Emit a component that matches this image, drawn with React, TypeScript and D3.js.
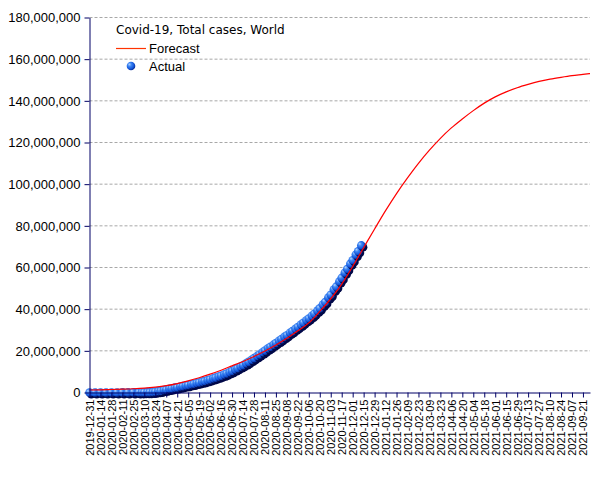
import { useRef, useEffect } from "react";
import * as d3 from "d3";

const WIDTH = 605;
const HEIGHT = 480;

const chartTitle = "Covid-19, Total cases, World";
const legendLabels = ["Forecast", "Actual"];

// forecast, every 14 days from 2019-12-31 (plus the last day of the axis)
const forecastDates = [
  "2019-12-31", "2020-01-14", "2020-01-28", "2020-02-11", "2020-02-25", "2020-03-10",
  "2020-03-24", "2020-04-07", "2020-04-21", "2020-05-05", "2020-05-19", "2020-06-02",
  "2020-06-16", "2020-06-30", "2020-07-14", "2020-07-28", "2020-08-11", "2020-08-25",
  "2020-09-08", "2020-09-22", "2020-10-06", "2020-10-20", "2020-11-03", "2020-11-17",
  "2020-12-01", "2020-12-15", "2020-12-29", "2021-01-12", "2021-01-26", "2021-02-09",
  "2021-02-23", "2021-03-09", "2021-03-23", "2021-04-06", "2021-04-20", "2021-05-04",
  "2021-05-18", "2021-06-01", "2021-06-15", "2021-06-29", "2021-07-13", "2021-07-27",
  "2021-08-10", "2021-08-24", "2021-09-07", "2021-09-21", "2021-09-30",
];
// millions
const forecastValues = [
  1.2, 1.3, 1.45, 1.6, 1.8, 2.1,
  2.6, 3.3, 4.3, 5.6, 7.1, 8.8,
  10.7, 12.8, 14.9, 17.3, 19.9, 22.8,
  26.0, 29.6, 33.4, 38.9, 45.0, 52.0,
  60.5, 69.5, 78.5, 87.3, 95.5, 103.0,
  110.0, 116.3, 122.0, 127.0, 131.3, 135.3,
  138.9, 141.9, 144.3, 146.3, 147.9, 149.3,
  150.4, 151.3, 152.1, 152.7, 153.1,
];

const actualDates = [
  "2019-12-31", "2020-01-07", "2020-01-14", "2020-01-21", "2020-01-28", "2020-02-04",
  "2020-02-11", "2020-02-18", "2020-02-25", "2020-03-03", "2020-03-07", "2020-03-10",
  "2020-03-14", "2020-03-17", "2020-03-21", "2020-03-24", "2020-03-28", "2020-03-31",
  "2020-04-04", "2020-04-07", "2020-04-11", "2020-04-14", "2020-04-18", "2020-04-21",
  "2020-04-25", "2020-04-28", "2020-05-02", "2020-05-05", "2020-05-09", "2020-05-12",
  "2020-05-16", "2020-05-19", "2020-05-23", "2020-05-26", "2020-05-30", "2020-06-02",
  "2020-06-06", "2020-06-09", "2020-06-13", "2020-06-16", "2020-06-20", "2020-06-23",
  "2020-06-27", "2020-06-30", "2020-07-04", "2020-07-07", "2020-07-11", "2020-07-14",
  "2020-07-18", "2020-07-21", "2020-07-25", "2020-07-28", "2020-08-01", "2020-08-04",
  "2020-08-08", "2020-08-11", "2020-08-15", "2020-08-18", "2020-08-22", "2020-08-25",
  "2020-08-29", "2020-09-01", "2020-09-05", "2020-09-08", "2020-09-12", "2020-09-15",
  "2020-09-19", "2020-09-22", "2020-09-26", "2020-09-29", "2020-10-03", "2020-10-06",
  "2020-10-10", "2020-10-13", "2020-10-17", "2020-10-20", "2020-10-24", "2020-10-27",
  "2020-10-31", "2020-11-03", "2020-11-07", "2020-11-10", "2020-11-14", "2020-11-17",
  "2020-11-21", "2020-11-24", "2020-11-28", "2020-12-01", "2020-12-05", "2020-12-08",
  "2020-12-12",
];
// millions
const actualValues = [
  0.00003, 0.00006, 0.00006, 0.00044, 0.0056, 0.0245,
  0.0452, 0.0733, 0.0804, 0.0928, 0.106, 0.118,
  0.157, 0.197, 0.305, 0.418, 0.66, 0.8,
  1.2, 1.36, 1.78, 1.92, 2.32, 2.47,
  2.86, 3.04, 3.4, 3.58, 3.96, 4.17,
  4.55, 4.8, 5.2, 5.49, 5.93, 6.26,
  6.76, 7.12, 7.64, 8.04, 8.62, 9.1,
  9.76, 10.3, 11.1, 11.64, 12.48, 13.08,
  14.0, 14.71, 15.7, 16.48, 17.5, 18.27,
  19.3, 20.11, 21.2, 21.93, 22.96, 23.75,
  24.8, 25.6, 26.7, 27.5, 28.7, 29.44,
  30.6, 31.45, 32.6, 33.5, 34.7, 35.55,
  36.8, 37.8, 39.3, 40.4, 42.2, 43.4,
  45.6, 46.9, 49.4, 50.8, 53.3, 55.0,
  57.5, 59.3, 61.8, 63.5, 66.1, 67.8,
  70.6,
];

const yTicks = [0, 20, 40, 60, 80, 100, 120, 140, 160, 180];
const axisStart = "2019-12-31";
const axisEnd = "2021-09-30";
const tickStepDays = 14;

const FONT = "'Liberation Sans', Arial, sans-serif";

const App = () => {
  const svgRef = useRef(null);

  useEffect(() => {
    document.body.style.margin = "0";
    const parse = d3.utcParse("%Y-%m-%d");
    const start = parse(axisStart);
    const end = parse(axisEnd);

    const x = d3.scaleUtc().domain([start, end]).range([89.5, 590]);
    const y = d3.scaleLinear().domain([0, 180]).range([392.5, 17.5]);

    const svgEl = d3.select(svgRef.current);
    svgEl.selectAll("*").remove();

    // gradient for the ball markers
    const defs = svgEl.append("defs");
    const grad = defs
      .append("radialGradient")
      .attr("id", "ball")
      .attr("cx", "0.4")
      .attr("cy", "0.4")
      .attr("r", "0.6")
      .attr("fx", "0.3")
      .attr("fy", "0.3");
    grad.append("stop").attr("offset", "0%").attr("stop-color", "#b5d4ff");
    grad.append("stop").attr("offset", "35%").attr("stop-color", "#3f88f4");
    grad.append("stop").attr("offset", "75%").attr("stop-color", "#1558dc");
    grad.append("stop").attr("offset", "100%").attr("stop-color", "#0a2f99");

    // grid lines
    svgEl
      .append("g")
      .selectAll("line")
      .data(yTicks.slice(1))
      .join("line")
      .attr("x1", 89.5)
      .attr("x2", 590)
      .attr("y1", (d) => y(d))
      .attr("y2", (d) => y(d))
      .attr("stroke", "#a8a8a8")
      .attr("stroke-dasharray", "3,2");

    // actual data: shadow then ball, point by point
    const actual = actualDates.map((d, i) => ({ date: parse(d), value: actualValues[i] }));
    const balls = svgEl.append("g").selectAll("g").data(actual).join("g");
    balls
      .append("circle")
      .attr("cx", (d) => x(d.date) + 1.8)
      .attr("cy", (d) => y(d.value) + 1.8)
      .attr("r", 4.3)
      .attr("fill", "#000848");
    balls
      .append("circle")
      .attr("cx", (d) => x(d.date))
      .attr("cy", (d) => y(d.value))
      .attr("r", 4.3)
      .attr("fill", "url(#ball)");

    // forecast line
    const forecast = forecastDates.map((d, i) => ({ date: parse(d), value: forecastValues[i] }));
    svgEl
      .append("path")
      .datum(forecast)
      .attr("fill", "none")
      .attr("stroke", "#ff0000")
      .attr("stroke-width", 1.2)
      .attr(
        "d",
        d3
          .line()
          .x((d) => x(d.date))
          .y((d) => y(d.value))
          .curve(d3.curveMonotoneX)
      );

    // y axis
    const yAxis = d3
      .axisLeft(y)
      .tickValues(yTicks)
      .tickSize(5)
      .tickSizeOuter(0)
      .tickPadding(4)
      .tickFormat((v) => d3.format(",")(v * 1000000));
    const yAxisGroup = svgEl.append("g").attr("transform", "translate(89.5,0)").call(yAxis);
    yAxisGroup.select(".domain").attr("stroke", "#000066");
    yAxisGroup.selectAll("line").attr("stroke", "#000066");
    yAxisGroup
      .selectAll("text")
      .attr("font-family", FONT)
      .attr("font-size", "13px")
      .attr("fill", "#000");

    // x axis
    const tickDates = d3
      .range(0, d3.utcDay.count(start, end) + 1, tickStepDays)
      .map((n) => d3.utcDay.offset(start, n));
    const xAxis = d3
      .axisBottom(x)
      .tickValues(tickDates)
      .tickSize(5)
      .tickSizeOuter(0)
      .tickFormat(d3.utcFormat("%Y-%m-%d"));
    const xAxisGroup = svgEl.append("g").attr("transform", "translate(0,392.5)").call(xAxis);
    xAxisGroup.select(".domain").attr("stroke", "#000066");
    xAxisGroup.selectAll("line").attr("stroke", "#000066");
    xAxisGroup
      .selectAll("text")
      .attr("font-family", FONT)
      .attr("font-size", "11px")
      .attr("fill", "#000")
      .attr("transform", "rotate(-90)")
      .attr("text-anchor", "end")
      .attr("x", -7)
      .attr("y", 0)
      .attr("dy", "0.35em");

    // legend
    const legend = svgEl.append("g").attr("font-family", FONT).attr("font-size", "13px");
    legend
      .append("text")
      .attr("x", 116)
      .attr("y", 34)
      .attr("font-family", "'DejaVu Sans', Verdana, sans-serif")
      .attr("font-size", "12px")
      .text(chartTitle);
    legend
      .append("line")
      .attr("x1", 116)
      .attr("x2", 146)
      .attr("y1", 48.5)
      .attr("y2", 48.5)
      .attr("stroke", "#ff3300")
      .attr("stroke-width", 1.2);
    legend.append("text").attr("x", 149).attr("y", 53).text(legendLabels[0]);
    legend.append("circle").attr("cx", 131).attr("cy", 66).attr("r", 4.3).attr("fill", "url(#ball)");
    legend.append("text").attr("x", 149).attr("y", 71).text(legendLabels[1]);
  }, []);

  return <svg ref={svgRef} width={WIDTH} height={HEIGHT} style={{ display: "block" }}></svg>;
};

export default App;
